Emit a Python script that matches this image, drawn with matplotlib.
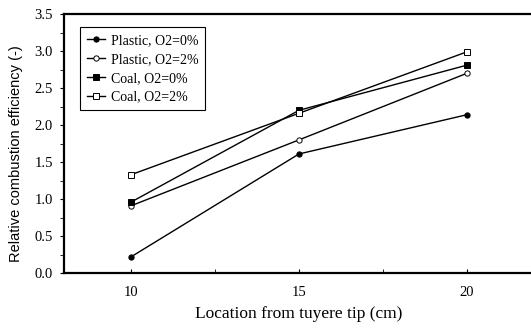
import matplotlib
matplotlib.use("Agg")
import matplotlib.pyplot as plt
from matplotlib.ticker import MultipleLocator, FormatStrFormatter

plt.rcParams['font.family'] = ['Liberation Serif', 'DejaVu Serif']

locations = [10, 15, 20]
plastic_o2_0 = [0.22, 1.61, 2.14]
plastic_o2_2 = [0.91, 1.80, 2.70]
coal_o2_0 = [0.96, 2.20, 2.81]
coal_o2_2 = [1.33, 2.16, 2.99]
labels = ["Plastic, O2=0%", "Plastic, O2=2%", "Coal, O2=0%", "Coal, O2=2%"]

fig = plt.figure(figsize=(5.31, 3.29), dpi=100)
ax = fig.add_axes([0.1205, 0.170, 0.885, 0.787])

styles = [
    dict(marker='o', mfc='black'),
    dict(marker='o', mfc='white'),
    dict(marker='s', mfc='black'),
    dict(marker='s', mfc='white'),
]
for ys, lab, st in zip([plastic_o2_0, plastic_o2_2, coal_o2_0, coal_o2_2], labels, styles):
    ax.plot(locations, ys, color='black', lw=1.0, ms=3.8, mec='black', mew=0.7,
            label=lab, **st)

ax.set_xlim(8, 22)
ax.set_ylim(0, 3.5)
ax.set_xticks(locations)
ax.xaxis.set_minor_locator(MultipleLocator(2.5))
ax.yaxis.set_major_locator(MultipleLocator(0.5))
ax.yaxis.set_minor_locator(MultipleLocator(0.25))
ax.yaxis.set_major_formatter(FormatStrFormatter('%.1f'))
ax.tick_params(labelsize=10.5, width=0.8)
ax.tick_params(axis='x', which='both', direction='in', length=3, pad=9)
ax.tick_params(axis='y', which='both', direction='out', length=3, pad=5)
for s in ax.spines.values():
    s.set_linewidth(1.6)

ax.set_xlabel("Location from tuyere tip (cm)", fontsize=12.5, labelpad=5)
ax.set_ylabel("Relative combustion efficiency (-)", fontsize=10.5,
              family=['Liberation Sans', 'DejaVu Sans'])
ax.yaxis.set_label_coords(-0.087, 0.46)

leg = ax.legend(loc='upper left', bbox_to_anchor=(0.034, 0.95), borderaxespad=0,
                fontsize=10, frameon=True, fancybox=False, edgecolor='black',
                handlelength=1.3, handletextpad=0.4, borderpad=0.5,
                labelspacing=0.42, framealpha=1)
leg.get_frame().set_linewidth(0.8)

fig.savefig("out.png", dpi=100)
